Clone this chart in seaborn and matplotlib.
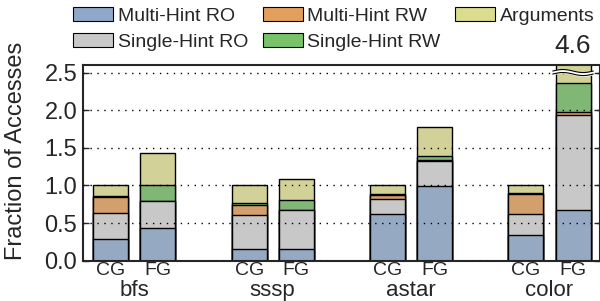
import numpy as np
import pandas as pd
import matplotlib
matplotlib.use("Agg")
from matplotlib import pyplot as plt
from matplotlib.patches import Patch
from matplotlib import transforms
import seaborn as sns

# Data
workloads = ["bfs", "sssp", "astar", "color"]
variants = ["CG", "FG"]
categories = ["Multi-Hint RO", "Single-Hint RO", "Multi-Hint RW", "Single-Hint RW", "Arguments"]
multi_ro = [0.29, 0.44, 0.16, 0.15, 0.62, 0.99, 0.34, 0.67]
single_ro = [0.35, 0.35, 0.45, 0.52, 0.20, 0.34, 0.28, 1.26]
multi_rw = [0.21, 0.00, 0.13, 0.00, 0.055, 0.01, 0.26, 0.05]
single_rw = [0.01, 0.21, 0.02, 0.14, 0.005, 0.05, 0.02, 0.38]
arguments = [0.14, 0.43, 0.24, 0.28, 0.12, 0.38, 0.10, 2.24]
colors = ["#8fa8ca", "#c8c8c8", "#e39f5c", "#78c26a", "#dbdc8e"]

# long dataframe with cumulative heights for stacking
series = [multi_ro, single_ro, multi_rw, single_rw, arguments]
cum = np.cumsum(np.array(series), axis=0)
rows = []
for ci, cat in enumerate(categories):
    for i, w in enumerate(workloads):
        for j, v in enumerate(variants):
            rows.append({"workload": w, "variant": v, "category": cat,
                         "cum": cum[ci, i * 2 + j]})
df = pd.DataFrame(rows)

sns.set_style("ticks")
plt.rcParams["font.family"] = ["Liberation Sans", "DejaVu Sans"]

fig = plt.figure(figsize=(6, 3.01), dpi=100)
ax = fig.add_axes([0.138, 0.134, 0.862, 0.650])

# draw tallest cumulative first so lower layers cover it
for ci in reversed(range(len(categories))):
    sub = df[df["category"] == categories[ci]]
    sns.barplot(data=sub, x="workload", y="cum", hue="variant", hue_order=variants,
                order=workloads, palette={v: colors[ci] for v in variants},
                width=0.68, gap=0.256, edgecolor="black", linewidth=1.0,
                errorbar=None, legend=False, ax=ax)

ax.set_ylim(0, 2.6)
ax.set_xlim(-0.372, 3.365)
ax.set_yticks([0, 0.5, 1.0, 1.5, 2.0, 2.5])
ax.set_yticklabels(["0.0", "0.5", "1.0", "1.5", "2.0", "2.5"], fontsize=17)
ax.set_axisbelow(False)
ax.yaxis.grid(True, linestyle=(0, (1, 4)), color="black", linewidth=1.0)
ax.tick_params(axis="y", direction="in", length=4, width=1, right=True, pad=4)
ax.tick_params(axis="x", length=0, pad=1)
for s in ax.spines.values():
    s.set_linewidth(1.5)

# CG / FG tick labels under each bar, workload names below
off = 0.17
xpos = []
xlab = []
for g in range(len(workloads)):
    xpos += [g - off, g + off]
    xlab += variants
ax.set_xticks(xpos)
ax.set_xticklabels(xlab, fontsize=14)
ax.set_xlabel("")
trans = transforms.blended_transform_factory(ax.transData, ax.transAxes)
for g, w in enumerate(workloads):
    ax.text(g, -0.15, w, transform=trans, ha="center", va="center", fontsize=16)

ax.set_ylabel("Fraction of Accesses", fontsize=17)
ax.yaxis.set_label_coords(-0.108, 0.56)

# broken bar marker and total label for the off-scale bar
total = cum[-1, -1]
bx = 3 + off
bw = 0.253
xs = np.linspace(bx - bw / 2 - 0.02, bx + bw / 2 + 0.02, 60)
wave = 0.02 * np.sin((xs - xs[0]) / (xs[-1] - xs[0]) * 2 * np.pi)
ax.fill_between(xs, 2.48 + wave, 2.52 + wave, color="white", zorder=5)
ax.plot(xs, 2.48 + wave, color="black", linewidth=0.8, zorder=6)
ax.plot(xs, 2.52 + wave, color="black", linewidth=0.8, zorder=6)
ax.annotate(f"{total:.1f}", xy=(bx, 1.0), xycoords=trans, xytext=(0, 5),
            textcoords="offset points", ha="center", va="bottom", fontsize=19)

handles = [Patch(facecolor=c, edgecolor="black", linewidth=0.8) for c in colors]
fig.legend(handles, categories, ncol=3, loc="upper left", bbox_to_anchor=(0.0925, 1.035),
           frameon=False, fontsize=14, handlelength=2.05, handleheight=0.7,
           handletextpad=0.25, columnspacing=0.75, labelspacing=0.45)

fig.savefig("out.png", dpi=100)
